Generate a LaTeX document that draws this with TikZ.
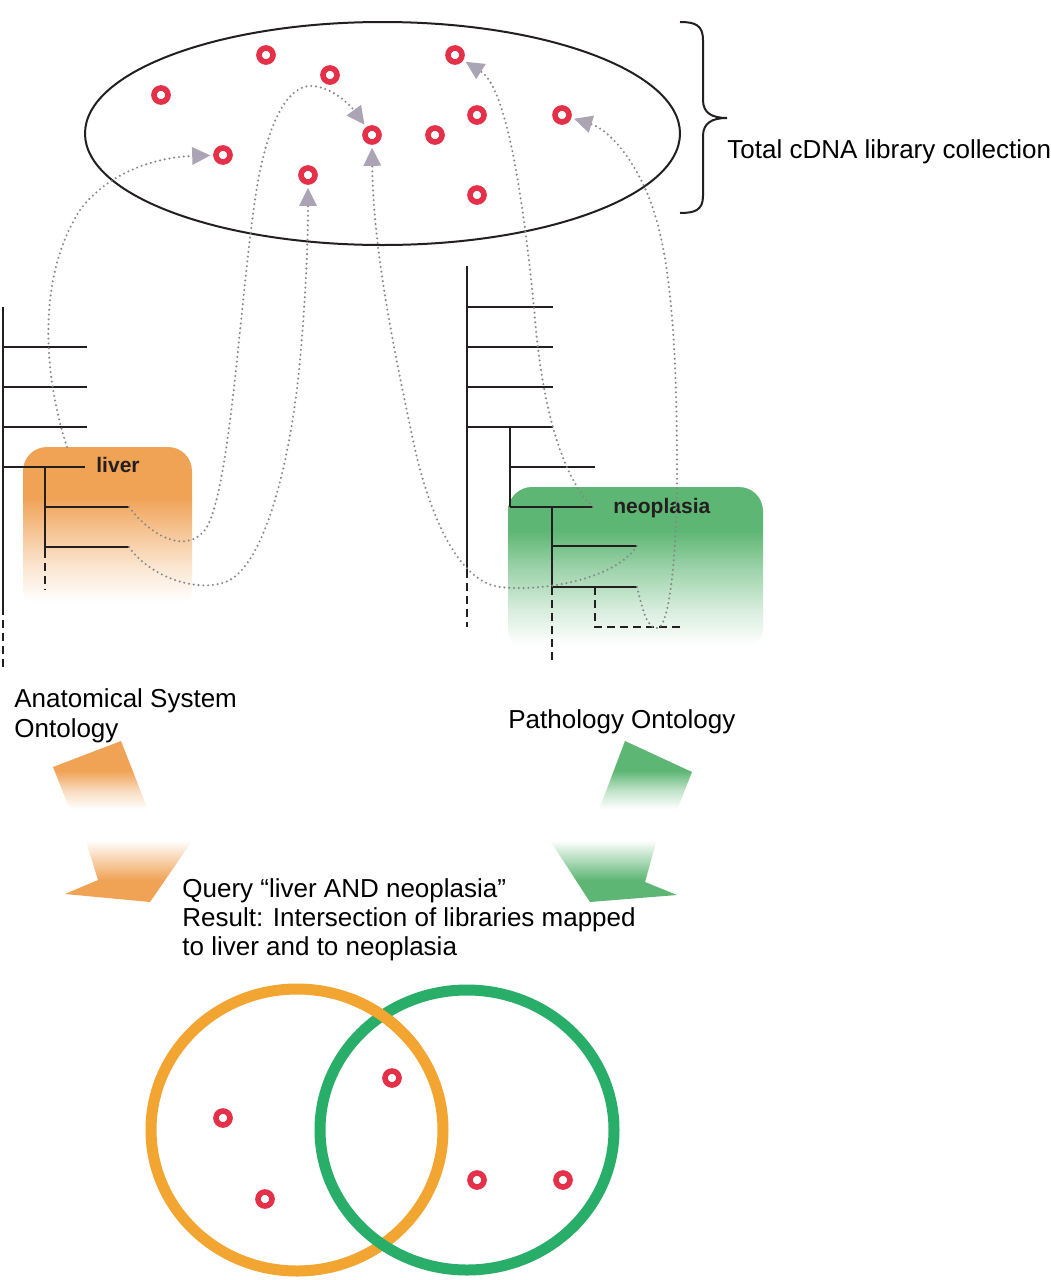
\documentclass[tikz,border=0pt]{standalone}
\usepackage{fontspec}
\setmainfont{Liberation Sans}
\usetikzlibrary{arrows.meta}
\definecolor{boxorange}{HTML}{F0A255}
\definecolor{boxgreen}{HTML}{5DB673}
\definecolor{vennorange}{HTML}{F2A530}
\definecolor{venngreen}{HTML}{28AE68}
\definecolor{ringred}{HTML}{E5304A}
\definecolor{dotgray}{HTML}{888888}
\definecolor{arrowc}{HTML}{ABA4B5}
\definecolor{treeblack}{HTML}{231F20}
\pgfdeclareverticalshading{oBox}{100bp}{color(0bp)=(white); color(28bp)=(white); color(38bp)=(boxorange!25!white); color(50bp)=(boxorange!65!white); color(60bp)=(boxorange); color(100bp)=(boxorange)}
\pgfdeclareverticalshading{gBox}{100bp}{color(0bp)=(white); color(27bp)=(white); color(38bp)=(boxgreen!25!white); color(50bp)=(boxgreen!60!white); color(62bp)=(boxgreen); color(100bp)=(boxgreen)}
\pgfdeclareverticalshading{oTop}{100bp}{color(0bp)=(white); color(29bp)=(white); color(42bp)=(boxorange!40!white); color(55bp)=(boxorange); color(100bp)=(boxorange)}
\pgfdeclareverticalshading{gTop}{100bp}{color(0bp)=(white); color(29bp)=(white); color(42bp)=(boxgreen!40!white); color(55bp)=(boxgreen); color(100bp)=(boxgreen)}
\pgfdeclareverticalshading{oBot}{100bp}{color(0bp)=(boxorange); color(39bp)=(boxorange); color(52bp)=(boxorange!50!white); color(65bp)=(white); color(100bp)=(white)}
\pgfdeclareverticalshading{gBot}{100bp}{color(0bp)=(boxgreen); color(39bp)=(boxgreen); color(52bp)=(boxgreen!50!white); color(65bp)=(white); color(100bp)=(white)}
\begin{document}
\begin{tikzpicture}[x=0.5pt, y=-0.5pt,
  ring/.style={circle, draw=ringred, line width=2.8pt, minimum size=7pt, inner sep=0pt},
  tline/.style={draw=treeblack, line width=1.2pt},
  tdash/.style={draw=treeblack, line width=1.2pt, dash pattern=on 4pt off 2.5pt},
  map/.style={draw=dotgray, line width=1.15pt, line cap=round, dash pattern=on 0pt off 2.4pt,
    -{Triangle[length=9pt,width=9pt,color=arrowc,fill=arrowc,line width=0pt]}, shorten >=1.5pt},
  lbl/.style={font=\fontsize{13pt}{15pt}\selectfont, inner sep=0pt, anchor=base west},
  blbl/.style={font=\bfseries\fontsize{10.5pt}{12pt}\selectfont, text=treeblack, inner sep=0pt, anchor=base west},
  vo/.style={draw=vennorange, line width=5.5pt},
  vg/.style={draw=venngreen, line width=5.5pt}]
\useasboundingbox (0,0) rectangle (1050,1280);
\fill[white] (0,0) rectangle (1050,1280);

% fading boxes
\shade[shading=oBox, rounded corners=12pt] (23,447) rectangle (192,612);
\shade[shading=gBox, rounded corners=12pt] (508,487) rectangle (763,652);

% big block arrows
\shade[shading=oTop] (53,767) -- (121,741) -- (150,815) -- (72,815) -- cycle;
\shade[shading=oBot] (81,825) -- (203,825) -- (150,902) -- (65,894) -- (98,880) -- cycle;
\shade[shading=gTop] (625,741) -- (692,772) -- (675,815) -- (597,815) -- cycle;
\shade[shading=gBot] (540,825) -- (661,825) -- (645,882) -- (677,895) -- (590,902) -- cycle;

% left tree (anatomy)
\draw[tline] (3,307) -- (3,607);
\draw[tdash] (3,607) -- (3,667);
\draw[tline] (3,347) -- (87,347);
\draw[tline] (3,387) -- (87,387);
\draw[tline] (3,427) -- (87,427);
\draw[tline] (3,467) -- (85,467);
\draw[tline] (45,467) -- (45,550);
\draw[tdash] (45,550) -- (45,590);
\draw[tline] (45,507) -- (129,507);
\draw[tline] (45,547) -- (129,547);
\coordinate (lTop) at (67,447);
\coordinate (lA) at (129,507);
\coordinate (lB) at (129,547);
\node[blbl] (liver) at (96,472) {liver};

% right tree (pathology)
\draw[tline] (467,266) -- (467,570);
\draw[tdash] (467,570) -- (467,627);
\draw[tline] (467,307) -- (553,307);
\draw[tline] (467,347) -- (553,347);
\draw[tline] (467,387) -- (553,387);
\draw[tline] (467,427) -- (553,427);
\draw[tline] (510,427) -- (510,507);
\draw[tline] (510,467) -- (595,467);
\draw[tline] (510,507) -- (593,507);
\draw[tline] (552,507) -- (552,587);
\draw[tdash] (552,587) -- (552,663);
\draw[tline] (552,546) -- (637,546);
\draw[tline] (552,587) -- (637,587);
\draw[tdash] (595,587) -- (595,627) -- (680,627);
\coordinate (rN) at (593,507);
\coordinate (rA) at (637,546);
\coordinate (rB) at (637,587);
\node[blbl] (neo) at (613,513) {neoplasia};

% total collection
\draw[line width=1pt, treeblack] (382.5,133.5) ellipse [x radius=297.5, y radius=111.5];
\draw[line width=1pt, treeblack] (680,22) .. controls (695,22) and (703,25) .. (703,40) -- (703,100)
  .. controls (703,113) and (712,118) .. (727,118) .. controls (712,118) and (703,123) .. (703,136)
  -- (703,196) .. controls (703,210) and (695,213) .. (680,213);
\node[lbl] (total) at (727,158) {Total cDNA library collection};

\node[ring] (e1) at (161,95) {};
\node[ring] (e2) at (266,55) {};
\node[ring] (e3) at (330,75) {};
\node[ring] (e4) at (455,55) {};
\node[ring] (e5) at (477,115) {};
\node[ring] (e6) at (562,115) {};
\node[ring] (e7) at (435,135) {};
\node[ring] (e8) at (372,135) {};
\node[ring] (e9) at (223,155) {};
\node[ring] (e10) at (308,175) {};
\node[ring] (e11) at (477,195) {};

% mapping connectors
\draw[map] (lTop) .. controls (45,380) and (35,280) .. (80,210) .. controls (110,170) and (160,157) .. (e9);
\draw[map] (lA) .. controls (150,535) and (185,555) .. (205,530) .. controls (230,495) and (240,300) .. (255,200)
  .. controls (265,130) and (285,85) .. (312,86) .. controls (332,87) and (350,105) .. (e8);
\draw[map] (lB) .. controls (150,577) and (200,595) .. (230,580) .. controls (268,558) and (292,450) .. (300,360)
  .. controls (306,295) and (308,240) .. (e10);
\draw[map] (rA) .. controls (615,580) and (540,592) .. (500,587) .. controls (460,582) and (430,520) .. (413,440)
  .. controls (395,355) and (373,250) .. (e8);
\draw[map] (rN) .. controls (565,480) and (545,420) .. (536,330) .. controls (527,230) and (510,90) .. (e4);
\draw[map] (rB) .. controls (643,612) and (648,630) .. (658,628) .. controls (670,625) and (677,550) .. (677,470)
  .. controls (677,360) and (672,270) .. (655,215) .. controls (640,165) and (610,130) .. (e6);

% labels
\node[lbl] (anat1) at (14,707) {Anatomical System};
\node[lbl] (anat2) at (14,737) {Ontology};
\node[lbl] (path) at (508,728) {Pathology Ontology};
\node[lbl] (q1) at (182,897) {Query “liver AND neoplasia”};
\node[lbl] (q2) at (182,926) {Result: Intersection of libraries mapped};
\node[lbl] (q3) at (182,955) {to liver and to neoplasia};

% Venn diagram
\draw[vo] (297,1130) ellipse [x radius=146, y radius=141];
\draw[vg] (467,1130) ellipse [x radius=147, y radius=140];
\begin{scope}
  \clip (350,990) rectangle (420,1045);
  \draw[vo] (297,1130) ellipse [x radius=146, y radius=141];
\end{scope}
\node[ring] (v1) at (223,1118) {};
\node[ring] (v2) at (265,1199) {};
\node[ring] (v3) at (392,1078) {};
\node[ring] (v4) at (477,1180) {};
\node[ring] (v5) at (563,1180) {};
\end{tikzpicture}
\end{document}
